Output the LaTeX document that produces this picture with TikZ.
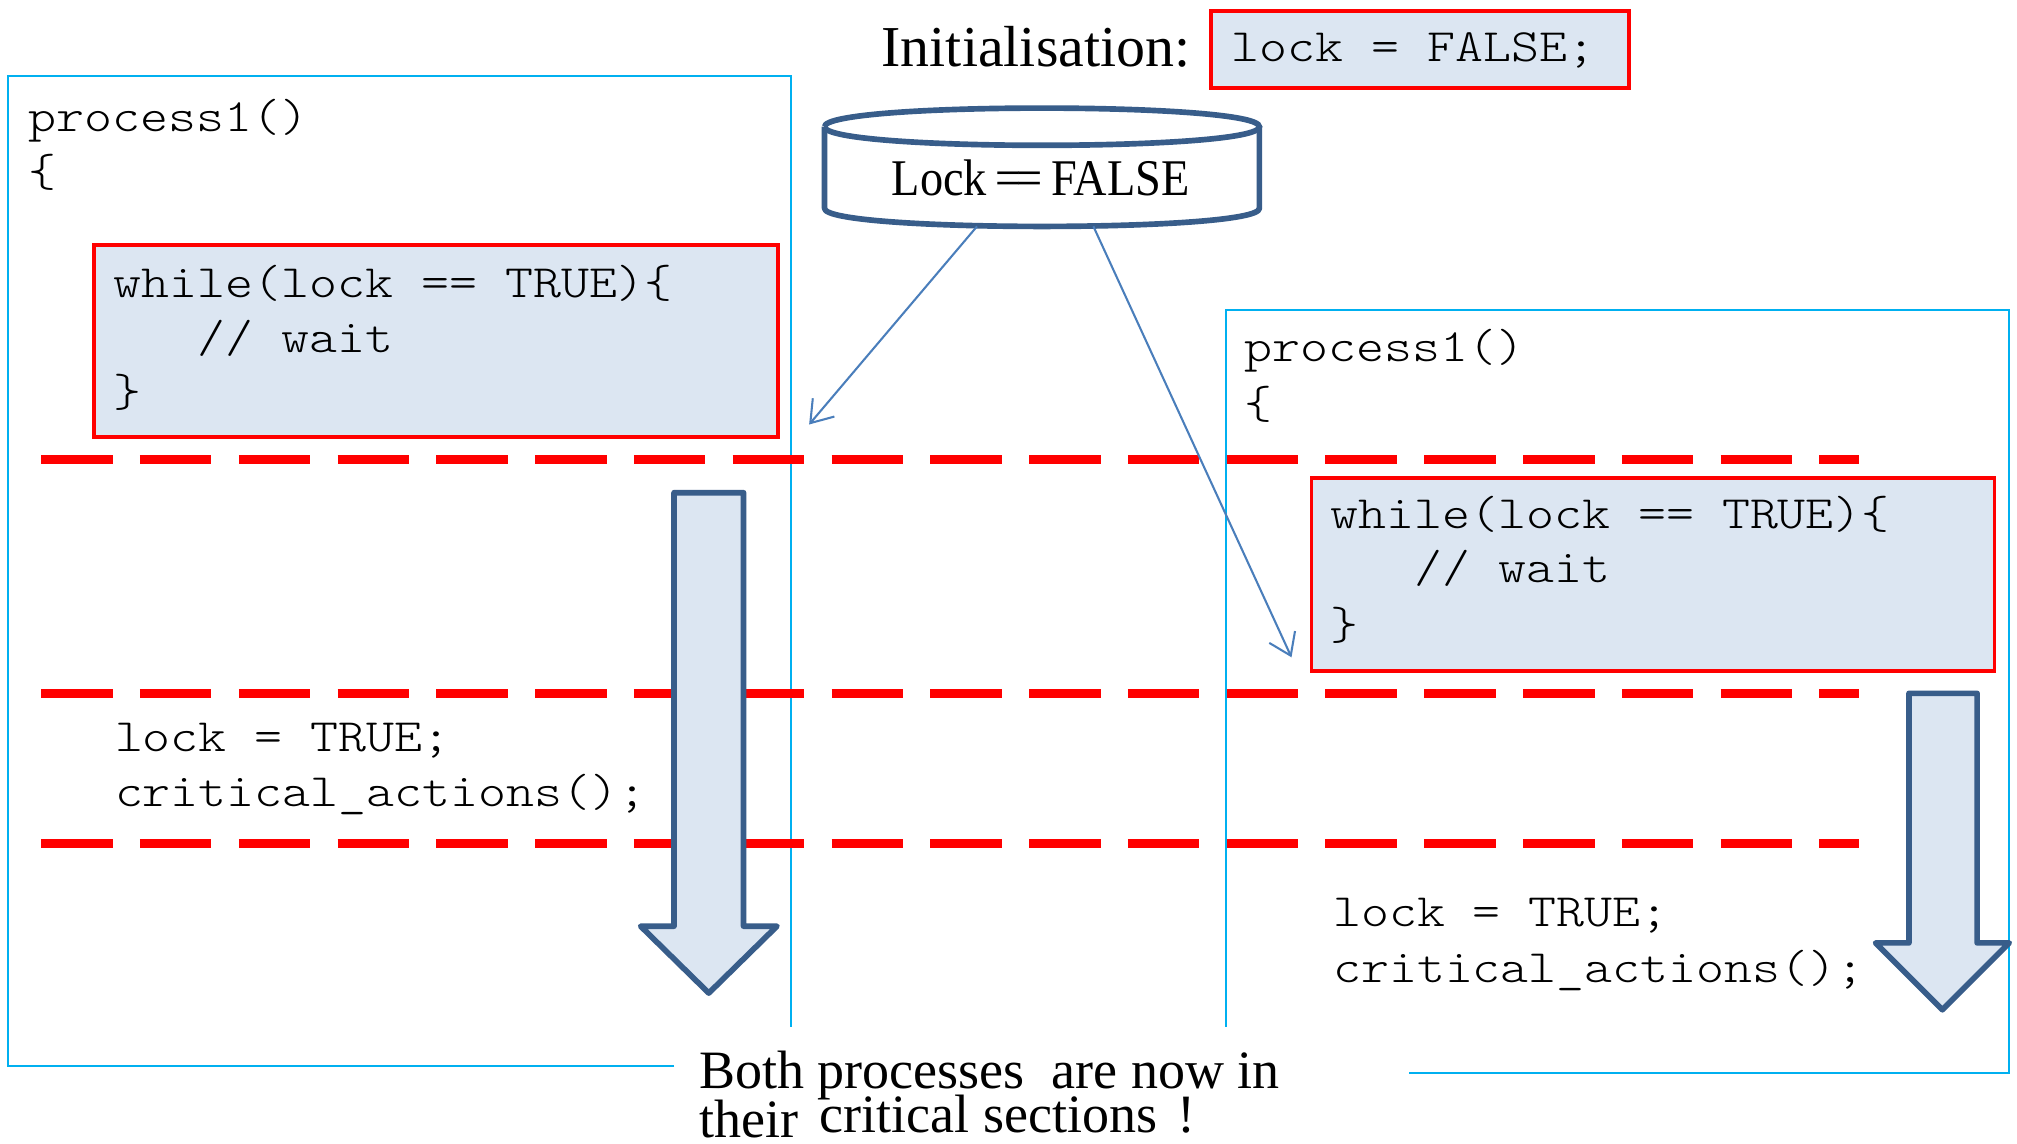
\documentclass[tikz,border=0pt]{standalone}
\usepackage{fontspec}
\setmainfont{Liberation Serif}
\newfontfamily\codefont[FakeStretch=1.15]{lmmonolt10-regular.otf}
\newfontfamily\condserif[FakeStretch=0.9]{Liberation Serif}
\usetikzlibrary{arrows.meta}
\definecolor{frameblue}{HTML}{00B0F0}
\definecolor{boxfill}{HTML}{DCE6F2}
\definecolor{darkblue}{HTML}{385D8A}
\definecolor{arrowblue}{HTML}{4A7EBB}
\newcommand\codefnt{\codefont\fontsize{18}{18}\selectfont}
\tikzset{
  code/.style={font=\codefnt, inner sep=0pt, anchor=base west},
  serif/.style={inner sep=0pt, anchor=base west},
  frame/.style={draw=frameblue, line width=0.8pt},
  redbox/.style={draw=red, fill=boxfill, line width=1.5pt, inner sep=0pt, anchor=north west},
  sepline/.style={draw=red, line width=3.6pt, dash pattern=on 27.8pt off 10.6pt},
  blockarrow/.style={draw=darkblue, fill=boxfill, line width=2.2pt, line join=round},
  thinarrow/.style={draw=arrowblue, line width=0.8pt, -{Straight Barb[length=8pt,width=11pt]}}
}
\begin{document}
\begin{tikzpicture}[x=0.5pt,y=-0.5pt]
\useasboundingbox[fill=white] (0,0) rectangle (1568,888.6);
% frames
\draw[frame] (524,829) -- (6.5,829) -- (6.5,59) -- (615,59) -- (615,798);
\draw[frame] (953,798) -- (953,241) -- (1562,241) -- (1562,834) -- (1095,834);
% initialisation
\node[serif, font=\fontsize{22.5}{22.5}\selectfont] (init) at (685,52) {Initialisation:};
\node[redbox, minimum width=162.5pt, minimum height=30pt] (initbox) at (940,7) {};
\node[code] (initcode) at (957,48) {lock = FALSE;};
% left process
\node[code] (p1) at (22,102) {process1()};
\node[code] (p1b) at (22,145) {\{};
\node[redbox, minimum width=265.75pt, minimum height=74.5pt] (lbox) at (71.5,189) {};
\node[code] (lw1) at (88,231) {while(lock == TRUE)\{};
\node[code] (lw2) at (88,274) {\phantom{www}// wait};
\node[code] (lw3) at (88,316) {\}};
\node[code] (lc1) at (89,584) {lock = TRUE;};
\node[code] (lc2) at (89,627) {critical\_actions();};
% right process
\node[code] (p2) at (967,281) {process1()};
\node[code] (p2b) at (967,325) {\{};
\node[redbox, minimum width=265.5pt, minimum height=75pt] (rbox) at (1018,370) {};
\node[code] (rw1) at (1034,411) {while(lock == TRUE)\{};
\node[code] (rw2) at (1034,453) {\phantom{www}// wait};
\node[code] (rw3) at (1034,497) {\}};
\node[code] (rc1) at (1036,720) {lock = TRUE;};
\node[code] (rc2) at (1036,764) {critical\_actions();};
% dashed separators
\draw[sepline] (32,357) -- (1445,357);
\draw[sepline] (32,539) -- (1445,539);
\draw[sepline] (32,656) -- (1445,656);
% block arrows
\draw[blockarrow] (524,383) -- (578,383) -- (578,720) -- (604,720) -- (551,772) -- (498,720) -- (524,720) -- cycle;
\draw[blockarrow] (1484,539) -- (1537,539) -- (1537,733) -- (1562,733) -- (1510,785) -- (1458,733) -- (1484,733) -- cycle;
% cylinder
\draw[draw=darkblue, fill=white, line width=2.2pt, line join=round]
  (641,98.5) -- (641,162) .. controls (641,180.7) and (979,180.7) .. (979,162) -- (979,98.5);
\draw[draw=darkblue, fill=white, line width=2.2pt]
  (641,98.5) .. controls (641,79.2) and (979,79.2) .. (979,98.5)
  .. controls (979,117.8) and (641,117.8) .. (641,98.5);
\node[serif, font=\condserif\fontsize{20}{20}\selectfont] (lock) at (693,152) {Lock\,=\kern-0.1em=\,FALSE};
% connectors
\coordinate (c1) at (759.5,176);
\coordinate (c2) at (850,176);
\coordinate (t1) at (629,330);
\coordinate (t2) at (1004,511);
\draw[thinarrow] (c1) -- (t1);
\draw[thinarrow] (c2) -- (t2);
% bottom text
\node[serif, font=\fontsize{21}{21}\selectfont] (both) at (543,846) {Both processes\ \ are now in};
\node[serif, font=\fontsize{21}{21}\selectfont] (their) at (543,884) {their};
\node[serif, font=\fontsize{21}{21}\selectfont] (crit) at (637,880) {critical sections};
\node[serif, font=\fontsize{21}{21}\selectfont] (excl) at (915,880) {!};
\end{tikzpicture}
\end{document}
